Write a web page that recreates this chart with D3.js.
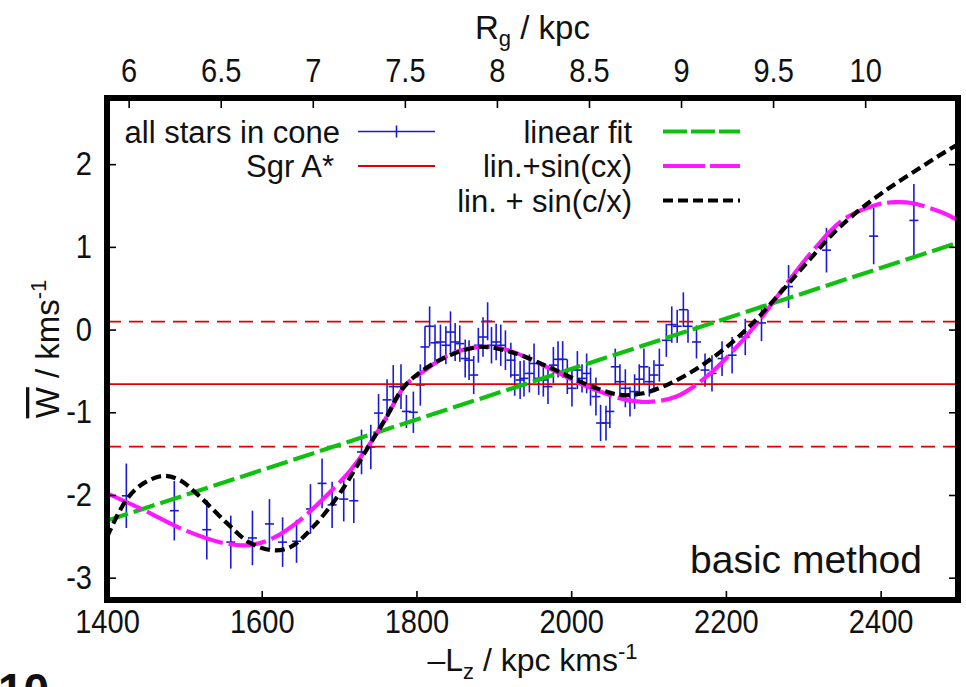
<!DOCTYPE html>
<html><head><meta charset="utf-8">
<script src="https://cdn.jsdelivr.net/npm/d3@7"></script>
<style>
body{margin:0;background:#fff}
svg text{font-family:"Liberation Sans",Arial,Helvetica,sans-serif;fill:#111}
</style>
</head><body>
<svg id="chart" width="966" height="687"></svg>
<script>
// ---------- data ----------
const starLz = [1425,1487,1529,1560,1588,1610,1627,1645,1663,1678,1691,1706,1719,1729,1741,
  1751,1762,1770,1780,1787,1796,1805,1811,1817,1824,1831,1838,1844,1850,1856,1863,1868,1874,
  1880,1886,1892,1897,1903,1909,1915,1922,1927,1934,1939,1946,1952,1958,1964,1970,1977,1983,
  1989,1995,2001,2008,2014,2020,2025,2032,2038,2045,2050,2057,2063,2070,2076,2082,2088,2094,
  2101,2107,2114,2123,2130,2137,2145,2151,2162,2173,2182,2195,2208,2225,2246,2281,2330,2391,2443];
const starW = [-2.01,-2.19,-2.42,-2.57,-2.52,-2.35,-2.57,-2.56,-2.17,-1.86,-2.12,-2.05,-2.07,-1.48,-1.42,
  -1.01,-0.85,-0.69,-0.69,-0.99,-1.00,-0.67,-0.21,0.04,-0.16,-0.15,-0.19,-0.03,-0.15,-0.17,-0.35,-0.37,-0.55,
  -0.19,-0.09,0.10,-0.19,-0.15,-0.19,-0.25,-0.37,-0.55,-0.61,-0.59,-0.53,-0.41,-0.59,-0.61,-0.69,-0.43,-0.36,
  -0.36,-0.57,-0.71,-0.49,-0.59,-0.53,-0.69,-0.81,-1.13,-1.13,-0.99,-0.45,-0.63,-0.71,-0.87,-0.75,-0.60,-0.45,
  -0.63,-0.55,-0.43,-0.13,0.06,0.04,0.24,0.04,-0.15,-0.49,-0.53,-0.35,-0.31,-0.09,0.08,0.52,0.96,1.13,1.32];
const starErr = [0.39,0.36,0.36,0.32,0.33,0.30,0.30,0.26,0.30,0.30,0.28,0.27,0.27,0.27,0.27,
  0.23,0.25,0.26,0.27,0.20,0.25,0.25,0.25,0.24,0.22,0.21,0.23,0.25,0.23,0.22,0.23,0.24,0.23,
  0.21,0.24,0.23,0.22,0.22,0.25,0.24,0.21,0.25,0.23,0.22,0.23,0.24,0.20,0.20,0.21,0.22,0.22,
  0.22,0.21,0.22,0.23,0.17,0.24,0.23,0.23,0.22,0.21,0.20,0.22,0.21,0.23,0.18,0.21,0.18,0.22,
  0.18,0.18,0.20,0.20,0.22,0.20,0.21,0.20,0.20,0.20,0.22,0.21,0.22,0.22,0.22,0.26,0.27,0.34,0.44];

const sgrA = -0.66;
const sgrAErr = 0.755;

const linFitLz = [1400, 2500];
const linFitW  = [-2.31, 1.05];

const sinCxLz = [1400,1447,1499,1555,1589,1615,1650,1692,1715,1737,1760,1785,1810,1830,1855,1882,1905,1925,
  1968,2011,2046,2072,2100,2136,2175,2210,2244,2279,2313,2352,2395,2420,2440,2481,2500];
const sinCxW  = [-1.98,-2.18,-2.42,-2.59,-2.60,-2.52,-2.30,-1.93,-1.70,-1.42,-1.08,-0.68,-0.50,-0.37,-0.26,-0.21,-0.22,-0.27,
  -0.45,-0.65,-0.78,-0.85,-0.875,-0.81,-0.57,-0.25,0.12,0.56,0.96,1.33,1.51,1.54,1.53,1.41,1.32];

const sinCoxLz = [1400,1425,1447,1473,1494,1520,1555,1585,1615,1637,1667,1701,1737,1760,1785,1830,1882,1925,
  1968,2000,2030,2063,2093,2128,2166,2201,2235,2270,2304,2339,2373,2400,2425,2450,2475,2500];
const sinCoxW  = [-2.51,-2.06,-1.86,-1.77,-1.82,-2.02,-2.34,-2.58,-2.67,-2.63,-2.38,-1.98,-1.43,-1.08,-0.68,-0.37,-0.21,-0.28,
  -0.44,-0.58,-0.70,-0.79,-0.77,-0.65,-0.45,-0.21,0.08,0.44,0.80,1.165,1.45,1.64,1.80,1.95,2.10,2.24];

const xTicks = [1400,1600,1800,2000,2200,2400];
const yTicks = [-3,-2,-1,0,1,2];
const rgTicks = [6,6.5,7,7.5,8,8.5,9,9.5,10];
const vCirc = 238; // Lz = vCirc * Rg (top axis)

// ---------- layout ----------
const L = 107, R = 958, T = 98, B = 600;
const svg = d3.select("#chart");
const x = d3.scaleLinear().domain([1400, 2500]).range([L, R]);
const y = d3.scaleLinear().domain([-3.27, 2.8]).range([B, T]);
const xTop = d3.scaleLinear().domain([1400 / vCirc, 2500 / vCirc]).range([L, R]);

svg.append("defs").append("clipPath").attr("id","clip")
  .append("rect").attr("x",L).attr("y",T).attr("width",R-L).attr("height",B-T);

const plot = svg.append("g").attr("clip-path","url(#clip)");

// data points with error bars
const blue = "#1a1ad6";
const pts = plot.append("g").attr("stroke", blue).attr("stroke-width", 1.6);
starLz.forEach((lz, i) => {
  const cx = x(lz), w = starW[i], e = starErr[i];
  pts.append("line").attr("x1",cx).attr("x2",cx).attr("y1",y(w-e)).attr("y2",y(w+e));
  pts.append("line").attr("x1",cx-4.5).attr("x2",cx+4.5).attr("y1",y(w)).attr("y2",y(w));
});

// Sgr A*
const red = "#e00000";
plot.append("line").attr("x1",L).attr("x2",R).attr("y1",y(sgrA)).attr("y2",y(sgrA))
  .attr("stroke",red).attr("stroke-width",1.8);
[sgrA + sgrAErr, sgrA - sgrAErr].forEach(v => {
  plot.append("line").attr("x1",L).attr("x2",R).attr("y1",y(v)).attr("y2",y(v))
    .attr("stroke",red).attr("stroke-width",1.8).attr("stroke-dasharray","14,8");
});

// fits
const line = d3.line().x(d => x(d[0])).y(d => y(d[1])).curve(d3.curveCatmullRom.alpha(0.5));
const green = "#10c010", magenta = "#ff18ff";
plot.append("path").datum(linFitLz.map((v,i)=>[v,linFitW[i]]))
  .attr("d", line).attr("fill","none").attr("stroke",green).attr("stroke-width",4.2).attr("stroke-dasharray","22,6");
plot.append("path").datum(sinCxLz.map((v,i)=>[v,sinCxW[i]]))
  .attr("d", line).attr("fill","none").attr("stroke",magenta).attr("stroke-width",4.2).attr("stroke-dasharray","38,6");
plot.append("path").datum(sinCoxLz.map((v,i)=>[v,sinCoxW[i]]))
  .attr("d", line).attr("fill","none").attr("stroke","#000").attr("stroke-width",4.2).attr("stroke-dasharray","10,5");

// axes (ticks inward)
const fs = 33, sx = 0.88;   // tick labels: tall, narrow digits
const axB = svg.append("g").attr("transform",`translate(0,${B})`)
  .call(d3.axisBottom(x).tickValues(xTicks).tickSizeInner(-9).tickSizeOuter(0).tickPadding(10).tickFormat(d3.format("d")));
const axL = svg.append("g").attr("transform",`translate(${L},0)`)
  .call(d3.axisLeft(y).tickValues(yTicks).tickSizeInner(-9).tickSizeOuter(0).tickPadding(15).tickFormat(d => String(d)));
const axR = svg.append("g").attr("transform",`translate(${R},0)`)
  .call(d3.axisRight(y).tickValues(yTicks).tickSizeInner(-9).tickSizeOuter(0).tickFormat(""));
const axT = svg.append("g").attr("transform",`translate(0,${T})`)
  .call(d3.axisTop(xTop).tickValues(rgTicks).tickSizeInner(-10).tickSizeOuter(0).tickPadding(16).tickFormat(d => String(d)));
[axB, axL, axR, axT].forEach(a => {
  a.select(".domain").remove();
  a.selectAll(".tick line").attr("stroke","#000").attr("stroke-width",1.6);
  a.selectAll(".tick text").attr("font-size",fs).attr("fill","#111")
    .style("font-family","'Liberation Sans',Arial,Helvetica,sans-serif")
    .attr("transform",`scale(${sx},1)`);
});
axL.selectAll(".tick text").attr("x", -15 / sx);

// frame
svg.append("rect").attr("x",L).attr("y",T).attr("width",R-L).attr("height",B-T)
  .attr("fill","none").attr("stroke","#000").attr("stroke-width",6);

// axis titles
const tfs = 33, sfs = 22;
const tTop = svg.append("text").attr("x",(L+R)/2).attr("y",39).attr("text-anchor","middle").attr("font-size",tfs);
tTop.append("tspan").text("R");
tTop.append("tspan").attr("font-size",sfs).attr("dy",7).text("g");
tTop.append("tspan").attr("dy",-7).text(" / kpc");

const tBot = svg.append("text").attr("x",(L+R)/2).attr("y",671).attr("text-anchor","middle").attr("font-size",32);
tBot.append("tspan").text("\u2013L");
tBot.append("tspan").attr("font-size",sfs).attr("dy",8).text("z");
tBot.append("tspan").attr("dy",-8).text(" / kpc kms");
tBot.append("tspan").attr("font-size",sfs).attr("dy",-12).text("-1");

const tLeft = svg.append("text").attr("transform",`translate(59,${(T+B)/2}) rotate(-90)`)
  .attr("text-anchor","middle").attr("font-size",tfs);
tLeft.append("tspan").style("text-decoration","overline").text("W");
tLeft.append("tspan").text(" / kms");
tLeft.append("tspan").attr("font-size",sfs).attr("dy",-13).text("-1");

// legend
const lfs = 31;
const lg = svg.append("g").attr("font-size",lfs);
const rows = [131.5, 166, 200.5];
lg.append("text").attr("x",340).attr("y",rows[0]+11).attr("text-anchor","end").text("all stars in cone");
lg.append("line").attr("x1",358).attr("x2",435).attr("y1",rows[0]).attr("y2",rows[0]).attr("stroke",blue).attr("stroke-width",1.6);
lg.append("line").attr("x1",396.5).attr("x2",396.5).attr("y1",rows[0]-6).attr("y2",rows[0]+6).attr("stroke",blue).attr("stroke-width",1.6);
lg.append("text").attr("x",334).attr("y",rows[1]+11).attr("text-anchor","end").text("Sgr A*");
lg.append("line").attr("x1",358).attr("x2",435).attr("y1",rows[1]).attr("y2",rows[1]).attr("stroke",red).attr("stroke-width",1.8);

lg.append("text").attr("x",632).attr("y",rows[0]+11).attr("text-anchor","end").text("linear fit");
lg.append("line").attr("x1",663).attr("x2",740).attr("y1",rows[0]).attr("y2",rows[0]).attr("stroke",green).attr("stroke-width",4.2).attr("stroke-dasharray","24,4");
lg.append("text").attr("x",632).attr("y",rows[1]+11).attr("text-anchor","end").text("lin.+sin(cx)");
lg.append("line").attr("x1",663).attr("x2",740).attr("y1",rows[1]).attr("y2",rows[1]).attr("stroke",magenta).attr("stroke-width",4.2).attr("stroke-dasharray","42,5");
lg.append("text").attr("x",632).attr("y",rows[2]+11).attr("text-anchor","end").text("lin. + sin(c/x)");
lg.append("line").attr("x1",663).attr("x2",740).attr("y1",rows[2]).attr("y2",rows[2]).attr("stroke","#000").attr("stroke-width",4.2).attr("stroke-dasharray","10,5");

// annotation
svg.append("text").attr("x",922).attr("y",573).attr("text-anchor","end").attr("font-size",39).text("basic method");

// page number at bottom-left, cropped by the page edge as in the reference
svg.append("text").attr("x",-2).attr("y",706).attr("font-size",46).attr("font-weight","bold").text("10");
</script>
</body></html>
